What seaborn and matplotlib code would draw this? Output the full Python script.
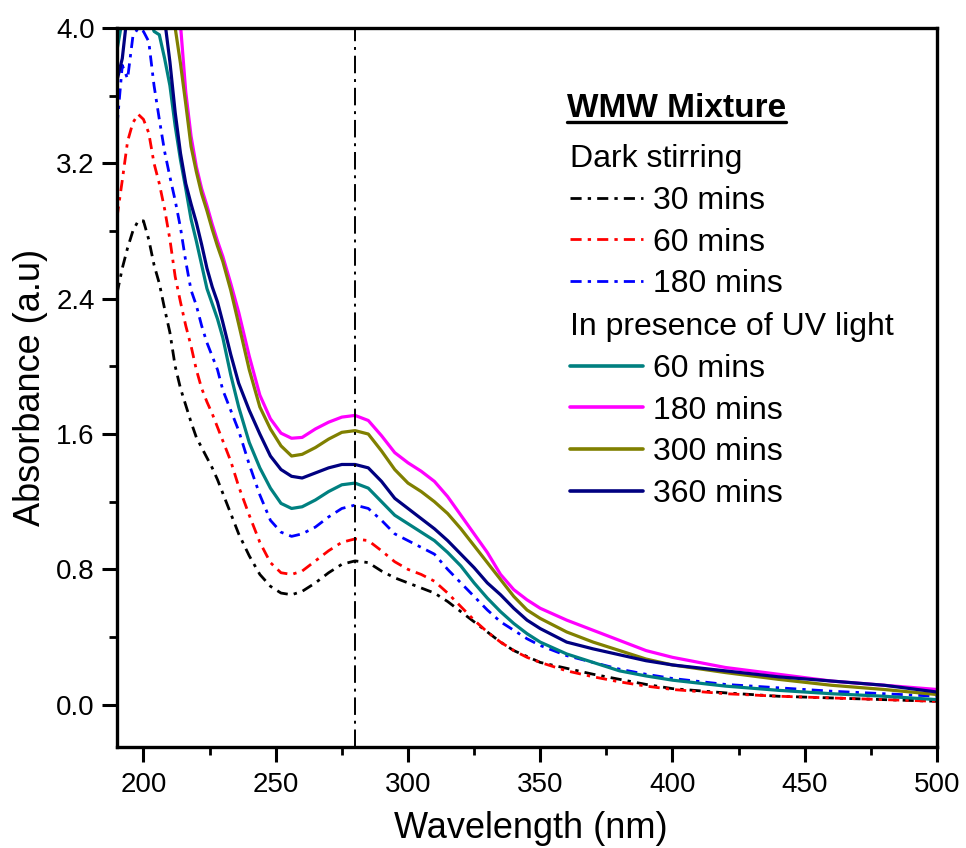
import numpy as np
import pandas as pd
import matplotlib
matplotlib.use("Agg")
import matplotlib.pyplot as plt
import seaborn as sns
from matplotlib.lines import Line2D

# ---------------- data ----------------
wavelength = [190, 192, 194, 196, 198, 200, 202, 204, 206, 208, 210, 212, 214, 216, 218,
              220, 222, 224, 226, 228, 230, 233, 236, 240, 244, 248, 252, 256, 260, 265,
              270, 275, 280, 285, 290, 295, 300, 305, 310, 315, 320, 325, 330, 335, 340,
              345, 350, 360, 370, 380, 390, 400, 420, 440, 460, 480, 500]

dark_30 = [2.43, 2.58, 2.70, 2.80, 2.86, 2.86, 2.75, 2.60, 2.49, 2.34, 2.20, 2.00, 1.87, 1.77, 1.67,
           1.58, 1.52, 1.46, 1.40, 1.33, 1.25, 1.13, 1.01, 0.88, 0.77, 0.70, 0.66, 0.65, 0.67, 0.72,
           0.78, 0.83, 0.85, 0.84, 0.79, 0.75, 0.72, 0.69, 0.66, 0.61, 0.55, 0.49, 0.43, 0.37, 0.32,
           0.285, 0.25, 0.215, 0.18, 0.15, 0.12, 0.095, 0.07, 0.05, 0.04, 0.03, 0.02]
dark_60 = [2.88, 3.10, 3.33, 3.44, 3.49, 3.46, 3.38, 3.20, 3.08, 2.93, 2.75, 2.53, 2.38, 2.24, 2.12,
           1.98, 1.87, 1.79, 1.72, 1.64, 1.56, 1.44, 1.29, 1.12, 0.96, 0.84, 0.78, 0.77, 0.79, 0.85,
           0.91, 0.96, 0.98, 0.97, 0.91, 0.845, 0.80, 0.77, 0.73, 0.66, 0.58, 0.50, 0.43, 0.37, 0.32,
           0.28, 0.25, 0.20, 0.165, 0.135, 0.11, 0.09, 0.065, 0.05, 0.04, 0.03, 0.02]
dark_180 = [3.42, 3.78, 3.70, 3.95, 4.00, 3.98, 3.92, 3.66, 3.46, 3.27, 3.12, 2.98, 2.82, 2.62, 2.45,
            2.36, 2.24, 2.14, 2.06, 1.98, 1.86, 1.74, 1.62, 1.42, 1.24, 1.09, 1.02, 0.995, 1.01, 1.05,
            1.11, 1.16, 1.18, 1.16, 1.09, 1.01, 0.97, 0.93, 0.89, 0.80, 0.72, 0.64, 0.56, 0.49, 0.44,
            0.39, 0.35, 0.29, 0.25, 0.21, 0.18, 0.155, 0.12, 0.10, 0.08, 0.065, 0.05]
uv_60 = [3.87, 4.05, 4.10, 4.10, 4.10, 4.10, 4.10, 3.98, 3.96, 3.82, 3.66, 3.42, 3.22, 3.05, 2.87,
         2.74, 2.60, 2.46, 2.37, 2.28, 2.17, 1.95, 1.76, 1.55, 1.40, 1.28, 1.19, 1.16, 1.17, 1.21,
         1.26, 1.30, 1.31, 1.28, 1.20, 1.12, 1.07, 1.02, 0.97, 0.90, 0.82, 0.72, 0.63, 0.55, 0.48,
         0.42, 0.37, 0.30, 0.25, 0.20, 0.17, 0.145, 0.11, 0.085, 0.065, 0.05, 0.03]
uv_180 = [4.10, 4.10, 4.10, 4.10, 4.10, 4.10, 4.10, 4.10, 4.10, 4.10, 4.10, 4.10, 4.02, 3.62, 3.36,
          3.18, 3.05, 2.95, 2.84, 2.74, 2.65, 2.49, 2.32, 2.06, 1.83, 1.69, 1.605, 1.575, 1.58, 1.63,
          1.67, 1.70, 1.71, 1.68, 1.59, 1.49, 1.43, 1.38, 1.32, 1.23, 1.12, 1.01, 0.90, 0.77, 0.68,
          0.62, 0.57, 0.50, 0.44, 0.38, 0.32, 0.28, 0.22, 0.18, 0.14, 0.115, 0.09]
uv_300 = [4.10, 4.10, 4.10, 4.10, 4.10, 4.10, 4.10, 4.10, 4.10, 4.10, 4.10, 4.00, 3.79, 3.55, 3.30,
          3.15, 3.02, 2.92, 2.81, 2.71, 2.62, 2.45, 2.25, 1.98, 1.76, 1.63, 1.53, 1.47, 1.48, 1.52,
          1.57, 1.61, 1.62, 1.60, 1.50, 1.39, 1.31, 1.26, 1.20, 1.13, 1.04, 0.94, 0.84, 0.74, 0.64,
          0.56, 0.51, 0.43, 0.37, 0.32, 0.27, 0.235, 0.19, 0.15, 0.115, 0.09, 0.06]
uv_360 = [3.69, 3.82, 4.10, 4.10, 4.10, 4.10, 4.10, 4.10, 4.10, 4.05, 3.80, 3.50, 3.26, 3.08, 2.96,
          2.85, 2.72, 2.58, 2.47, 2.38, 2.26, 2.07, 1.90, 1.74, 1.60, 1.47, 1.39, 1.35, 1.34, 1.37,
          1.40, 1.42, 1.42, 1.40, 1.32, 1.22, 1.16, 1.10, 1.04, 0.97, 0.89, 0.81, 0.72, 0.65, 0.57,
          0.50, 0.45, 0.37, 0.33, 0.295, 0.26, 0.235, 0.20, 0.165, 0.14, 0.115, 0.075]

dark_labels = ["30 mins", "60 mins", "180 mins"]
uv_labels = ["60 mins", "180 mins", "300 mins", "360 mins"]
dark_series = [dark_30, dark_60, dark_180]
uv_series = [uv_60, uv_180, uv_300, uv_360]
dark_colors = ["#000000", "#FF0000", "#0000FF"]
uv_colors = ["#008080", "#FF00FF", "#808000", "#000080"]
ref_wavelength = 280

legend_title = "WMW Mixture"
dark_title = "Dark stirring"
uv_title = "In presence of UV light"
x_ticks = [200, 250, 300, 350, 400, 450, 500]
y_ticks = [0.0, 0.8, 1.6, 2.4, 3.2, 4.0]

# ---------------- figure ----------------
sns.set_theme(style="ticks")
plt.rcParams['font.family'] = ['Liberation Sans', 'DejaVu Sans']
plt.rcParams['text.color'] = 'black'
plt.rcParams['axes.labelcolor'] = 'black'
plt.rcParams['xtick.color'] = 'black'
plt.rcParams['ytick.color'] = 'black'
plt.rcParams['axes.edgecolor'] = 'black'

W, H = 966, 848
fig = plt.figure(figsize=(W / 100, H / 100), dpi=100)
ax = fig.add_axes([117 / W, 1 - 747 / H, (937 - 117) / W, (747 - 28) / H])

rows = []
for lab, s in zip(dark_labels, dark_series):
    for x, y in zip(wavelength, s):
        rows.append(("Dark " + lab, x, y))
for lab, s in zip(uv_labels, uv_series):
    for x, y in zip(wavelength, s):
        rows.append(("UV " + lab, x, y))
df = pd.DataFrame(rows, columns=["series", "wavelength", "absorbance"])

dark_dash = (4, 2.2, 1.2, 2.2)
dark_handles = []
for lab, c in zip(dark_labels, dark_colors):
    sub = df[df.series == "Dark " + lab]
    sns.lineplot(data=sub, x="wavelength", y="absorbance", ax=ax, color=c,
                 linewidth=2.0, estimator=None, sort=False)
    ax.lines[-1].set_dashes(dark_dash)
    dark_handles.append(Line2D([], [], color=c, lw=2.0, dashes=dark_dash))

uv_handles = []
for lab, c in zip(uv_labels, uv_colors):
    sub = df[df.series == "UV " + lab]
    sns.lineplot(data=sub, x="wavelength", y="absorbance", ax=ax, color=c,
                 linewidth=2.3, estimator=None, sort=False)
    uv_handles.append(Line2D([], [], color=c, lw=2.6))

ax.axvline(ref_wavelength, color="black", lw=1.4, dashes=(9, 3, 1.5, 3))

ax.set_xlim(190, 500)
ax.set_ylim(-0.25, 4.0)
ax.set_xticks(x_ticks)
ax.set_xticks([225, 275, 325, 375, 425, 475], minor=True)
ax.set_yticks(y_ticks)
ax.set_yticks([0.4, 1.2, 2.0, 2.8, 3.6], minor=True)
ax.set_xticklabels([str(v) for v in x_ticks], fontsize=20)
ax.set_yticklabels([f"{v:.1f}" for v in y_ticks], fontsize=20)

ax.tick_params(axis="x", which="major", direction="out", length=11, width=2.2, pad=7)
ax.tick_params(axis="y", which="major", direction="out", length=11, width=2.2, pad=5)
ax.tick_params(which="minor", direction="out", length=5.5, width=2.0)
for sp in ax.spines.values():
    sp.set_visible(True)
    sp.set_linewidth(2.4)
    sp.set_color("black")

ax.set_xlabel("Wavelength (nm)", fontsize=26, va="center")
ax.set_ylabel("Absorbance (a.u)", fontsize=26, va="center")
ax.xaxis.set_label_coords((531 - 117) / 820, -(828 - 747) / 719)
ax.yaxis.set_label_coords(-(117 - 31) / 820, 0.5)

# legends
common = dict(frameon=False, fontsize=23, title_fontsize=23, borderpad=0, borderaxespad=0,
              handlelength=2.3, handletextpad=0.3, labelspacing=0.37, alignment="left",
              loc="upper left", bbox_transform=fig.transFigure)
leg1 = ax.legend(dark_handles, dark_labels, title=dark_title,
                 bbox_to_anchor=(570 / W, 1 - 144 / H), **common)
ax.add_artist(leg1)
leg2 = ax.legend(uv_handles, uv_labels, title=uv_title,
                 bbox_to_anchor=(570 / W, 1 - 312 / H), **common)

title = fig.text(567 / W, 1 - 117 / H, legend_title, fontsize=24, fontweight="bold",
                 ha="left", va="baseline")
fig.canvas.draw()
bb = title.get_window_extent()
y_ul = 1 - 122 / H
fig.add_artist(Line2D([bb.x0 / W, bb.x1 / W], [y_ul, y_ul], transform=fig.transFigure,
                      color="black", lw=2.4))

fig.savefig("out.png", dpi=100)
